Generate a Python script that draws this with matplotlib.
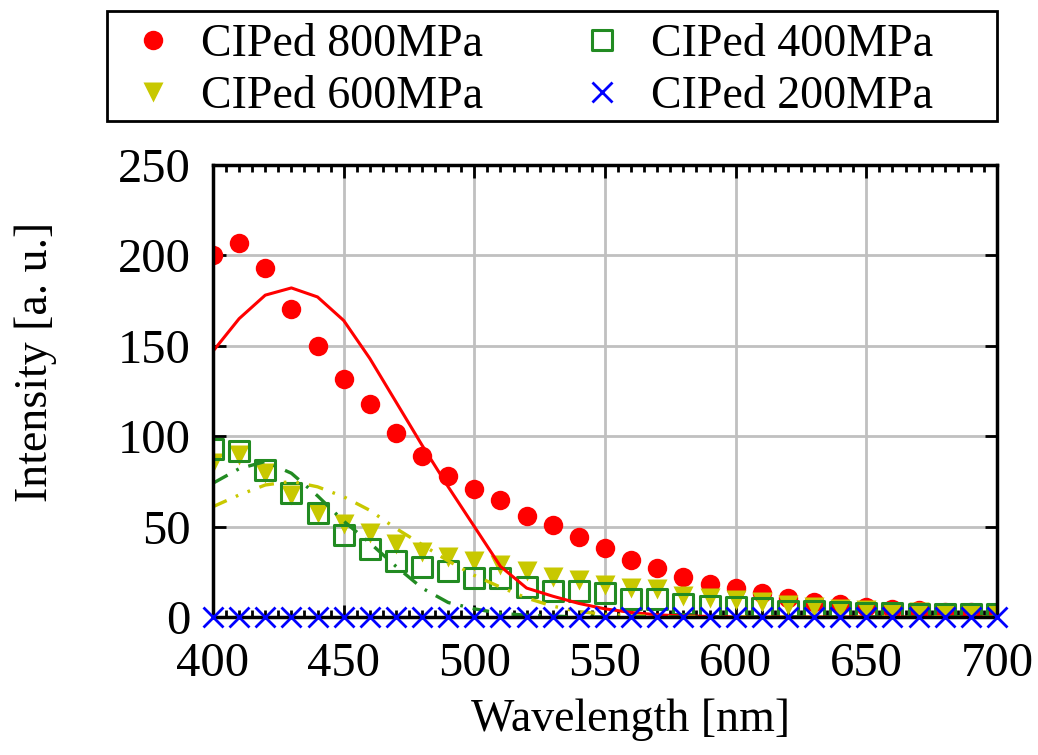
import numpy as np
import matplotlib.pyplot as plt
from matplotlib.path import Path
from matplotlib.patches import Rectangle
from matplotlib.ticker import MultipleLocator

plt.rcParams['font.family'] = ['Liberation Serif', 'DejaVu Serif']
plt.rcParams['font.size'] = 33

# wavelength grid (nm)
wl = np.arange(400, 701, 10)

# measured intensities
i800 = [200, 207, 193, 170.5, 150, 131.5, 118, 102, 89, 78, 71, 64.5, 56, 51, 44, 38,
        31.5, 27, 22, 18.5, 16, 13.5, 10.5, 8.5, 7, 5.7, 4.4, 3.8, 3, 2.6, 2]
i600 = [85, 89.5, 79.5, 67.5, 57.7, 51.4, 46.3, 40.4, 36, 33, 31, 28.8, 25.6, 22.3, 20.5, 17.7,
        15.9, 15.3, 11.6, 10.3, 9.4, 8.5, 6.6, 5.7, 4.3, 3.9, 2.9, 2.5, 2, 1.8, 1.5]
i400 = [92.7, 92, 81.3, 68.8, 57.7, 45.4, 37.8, 31, 27.8, 25.6, 21.8, 21.4, 16.8, 14.5, 14.2, 13,
        9.8, 10, 7.2, 6, 5.7, 5.2, 3.5, 3.3, 2.8, 2.4, 2, 1.8, 1.5, 1.5, 1.5]
i200 = [0] * 31

# fitted curves
f800 = [147, 165, 178, 182, 177, 164, 143, 119, 95, 72, 50, 28, 16, 11.5, 7.5, 4.5,
        2.5, 1.2, 0.6, 0.3, 0, 0, 0, 0, 0, 0, 0, 0, 0, 0, 0]
f600 = [61, 67.5, 73, 75, 72, 66.5, 59, 49, 40, 31, 23, 16.5, 10.5, 6, 3, 1.5,
        0.7, 0.3, 0, 0, 0, 0, 0, 0, 0, 0, 0, 0, 0, 0, 0]
f400 = [74, 82, 86, 79.5, 67, 53, 41, 28, 16, 8, 4.5, 2, 1, 0.5, 0, 0,
        0, 0, 0, 0, 0, 0, 0, 0, 0, 0, 0, 0, 0, 0, 0]

labels = ['CIPed 800MPa', 'CIPed 600MPa', 'CIPed 400MPa', 'CIPed 200MPa']

red = '#ff0000'
yel = '#c8c800'
grn = '#228b22'
blu = '#0000ff'

# open box with a dot in the middle
box = Path.make_compound_path(
    Path([(-1, -1), (1, -1), (1, 1), (-1, 1), (-1, -1)],
         [Path.MOVETO, Path.LINETO, Path.LINETO, Path.LINETO, Path.CLOSEPOLY]),
    Path([(-0.05, -0.05), (0.05, -0.05), (0.05, 0.05), (-0.05, 0.05), (-0.05, -0.05)],
         [Path.MOVETO, Path.LINETO, Path.LINETO, Path.LINETO, Path.CLOSEPOLY]))

fig = plt.figure(figsize=(10.38, 7.55), dpi=100)
ax = fig.add_axes([0.2052, 0.1828, 0.7553, 0.5987])

h1, = ax.plot(wl, i800, 'o', color=red, ms=14, mec='none', label=labels[0])
h2, = ax.plot(wl, i600, 'v', color=yel, ms=14.5, mec='none', label=labels[1])
h3, = ax.plot(wl, i400, ls='none', marker=box, ms=14, mfc='none', mec=grn, mew=2.2,
              label=labels[2])
h4, = ax.plot(wl, i200, 'x', color=blu, ms=15, mew=2, label=labels[3], clip_on=False,
              zorder=5)

ax.plot(wl, f800, '-', color=red, lw=2.2)
ax.plot(wl, f600, color=yel, lw=2.4, dashes=(4.5, 3, 0.8, 3, 0.8, 3))
ax.plot(wl, f400, color=grn, lw=2.4, dashes=(5, 3, 0.8, 3))

ax.set_xlim(400, 700)
ax.set_ylim(0, 250)
ax.xaxis.set_major_locator(MultipleLocator(50))
ax.xaxis.set_minor_locator(MultipleLocator(5))
ax.yaxis.set_major_locator(MultipleLocator(50))
ax.grid(True, which='major', color='#c0c0c0', lw=2)
ax.set_axisbelow(True)
ax.tick_params(which='both', direction='in', top=True, right=True, width=2, labelsize=35)
ax.tick_params(which='major', length=9)
ax.tick_params(which='minor', length=5)
ax.tick_params(axis='x', pad=18)
ax.tick_params(axis='y', pad=16)
for s in ax.spines.values():
    s.set_linewidth(2.5)

ax.set_xlabel('Wavelength [nm]')
ax.set_ylabel('Intensity [a. u.]')
ax.xaxis.set_label_coords(0.532, -0.18)
ax.yaxis.set_label_coords(-0.199, 0.564)

# legend box spans the full width above the plot
fig.patches.append(Rectangle((107 / 1038, 1 - 121 / 755), 890 / 1038, 110 / 755,
                             transform=fig.transFigure, fill=False, lw=2, ec='black'))
leg = fig.legend(handles=[h1, h2, h3, h4], ncol=2, loc='upper left',
                 bbox_to_anchor=(125.5 / 1038, 1 - 24 / 755), frameon=False,
                 borderaxespad=0, borderpad=0, handlelength=1.2, handletextpad=0.45,
                 labelspacing=0.2, columnspacing=2.0)

fig.savefig('out.png', dpi=100)
